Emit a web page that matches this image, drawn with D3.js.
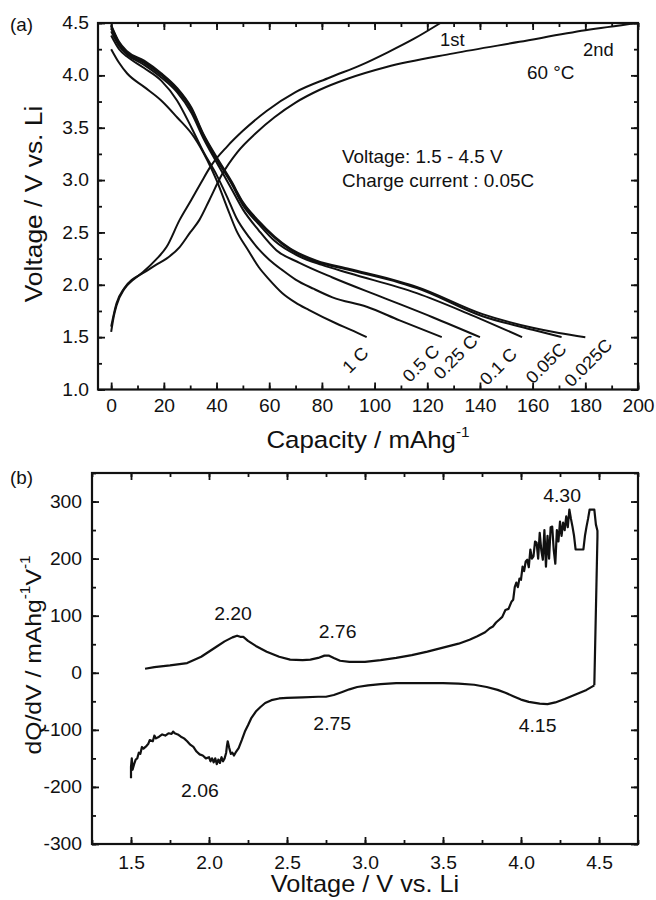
<!DOCTYPE html>
<html><head><meta charset="utf-8">
<script src="https://cdn.jsdelivr.net/npm/d3@7"></script>
<style>body{margin:0;background:#fff}svg{display:block}text{font-family:"Liberation Sans",Arial,sans-serif;fill:#111}</style>
</head><body>
<svg id="c" width="656" height="900"></svg>
<script>
// ---------- Panel (a) data: [capacity, voltage] ----------
const capMajorTicks = [0,20,40,60,80,100,120,140,160,180,200];
const voltMajorTicks = [1.0,1.5,2.0,2.5,3.0,3.5,4.0,4.5];
const rateLabels = ["1 C","0.5 C","0.25 C","0.1 C","0.05C","0.025C"];
const dis1C = [[0,4.25],[3,4.12],[6,4.02],[12.5,3.89],[19,3.76],[25,3.60],[31.5,3.41],[36.5,3.19],[40,3.0],[44,2.74],[47.5,2.52],[52,2.33],[56,2.17],[60,2.05],[65,1.92],[70,1.83],[75,1.76],[85.5,1.63],[91,1.57],[97,1.50]];
const dis05C = [[0,4.38],[3,4.25],[6,4.18],[12.5,4.07],[19,3.95],[25,3.76],[30.5,3.50],[35,3.27],[40,3.05],[44,2.84],[47.5,2.64],[52.5,2.45],[56,2.34],[60,2.24],[65,2.14],[70,2.05],[77,1.96],[84,1.88],[97,1.79],[109.5,1.66],[125.5,1.50]];
const dis025C = [[0,4.42],[3,4.28],[6,4.20],[12.5,4.10],[19,3.98],[25,3.84],[30.5,3.64],[35,3.40],[40,3.17],[45.6,2.92],[50,2.72],[56,2.52],[62.7,2.33],[71.5,2.21],[84,2.07],[103,1.88],[122,1.69],[140,1.50]];
const dis01C = [[0,4.45],[3,4.30],[6,4.21],[12.5,4.12],[19,4.00],[25,3.86],[30.5,3.67],[35,3.42],[40,3.20],[45.6,2.97],[50,2.76],[56,2.58],[62,2.42],[71.5,2.27],[80,2.19],[90.5,2.11],[116,1.92],[135,1.73],[156,1.50]];
const dis005C = [[0,4.47],[3,4.31],[6,4.22],[12.5,4.13],[19,4.01],[25,3.87],[30.5,3.68],[35,3.43],[40,3.21],[45.6,2.98],[50,2.78],[56,2.60],[67.7,2.34],[78,2.22],[90.5,2.14],[109.5,2.02],[116,1.97],[141,1.70],[160,1.57],[171,1.50]];
const dis0025C = [[0,4.48],[3,4.32],[6,4.23],[12.5,4.14],[19,4.02],[25,3.88],[30.5,3.69],[35,3.44],[40,3.22],[45.6,2.99],[50,2.79],[56,2.61],[67.7,2.35],[78,2.23],[90.5,2.15],[109.5,2.03],[116,1.98],[141,1.72],[160,1.59],[170,1.54],[180,1.50]];
const charge1st = [[0,1.55],[1,1.70],[2,1.80],[5,1.96],[8,2.04],[12,2.12],[17,2.24],[21,2.36],[26,2.62],[30.4,2.81],[34,2.97],[38,3.14],[44,3.32],[50,3.47],[59,3.66],[70,3.84],[83,3.98],[95,4.10],[105,4.22],[115,4.35],[125,4.50]];
const charge2nd = [[0,1.60],[1,1.72],[2,1.82],[5,1.97],[8,2.05],[12,2.11],[17,2.19],[21,2.25],[26,2.36],[30,2.50],[33.5,2.62],[37.3,2.81],[42,3.05],[48,3.27],[55,3.45],[62,3.60],[70,3.74],[79,3.86],[90,3.97],[104.5,4.08],[130,4.21],[155,4.32],[180,4.43],[200,4.50]];

// ---------- Panel (b) data: [voltage, dQ/dV] ----------
const dvMajorTicks = [1.5,2.0,2.5,3.0,3.5,4.0,4.5];
const dqMajorTicks = [-300,-200,-100,0,100,200,300];
const dqCharge = [[1.59,7],[1.65,10],[1.75,13],[1.86,17],[1.95,28],[2.05,46],[2.10,55],[2.15,62],[2.18,65],[2.20,63],[2.22,63],[2.25,56],[2.30,47],[2.37,37],[2.45,28],[2.52,23],[2.60,22],[2.65,23],[2.70,26],[2.74,30],[2.77,30],[2.80,26],[2.84,21],[2.90,19],[3.0,19],[3.1,22],[3.2,26],[3.3,31],[3.4,37],[3.5,44],[3.6,51],[3.67,58],[3.72,64],[3.77,71],[3.80,78],[3.82,81],[3.84,88],[3.86,93],[3.88,98],[3.90,110],[3.92,112],[3.94,125],[3.95,128],[3.96,150],[3.97,158],[3.98,150],[3.99,165],[4.00,163],[4.01,186],[4.02,178],[4.03,195],[4.04,198],[4.05,185],[4.06,216],[4.07,200],[4.08,204],[4.09,230],[4.10,228],[4.11,200],[4.12,245],[4.13,215],[4.14,198],[4.15,250],[4.16,186],[4.17,240],[4.18,200],[4.19,255],[4.20,256],[4.21,215],[4.22,191],[4.23,250],[4.24,230],[4.25,265],[4.26,240],[4.27,263],[4.28,250],[4.29,274],[4.30,255],[4.31,286],[4.32,270],[4.33,256],[4.34,240],[4.35,216],[4.37,216],[4.40,216],[4.41,240],[4.42,256],[4.43,270],[4.44,286],[4.47,286],[4.48,260],[4.49,249],[4.49,238],[4.47,-22]];
const dqDischarge = [[4.47,-22],[4.42,-30],[4.35,-38],[4.28,-46],[4.22,-52],[4.17,-55],[4.12,-54],[4.05,-51],[4.00,-47],[3.95,-41],[3.90,-35],[3.85,-30],[3.78,-25],[3.70,-21],[3.60,-19],[3.50,-18],[3.40,-18],[3.30,-18],[3.20,-18],[3.10,-20],[3.02,-22],[2.95,-25],[2.90,-29],[2.85,-34],[2.80,-39],[2.75,-42],[2.70,-42],[2.60,-43],[2.50,-44],[2.45,-45],[2.40,-48],[2.36,-53],[2.33,-60],[2.30,-68],[2.27,-80],[2.25,-92],[2.23,-103],[2.21,-118],[2.19,-132],[2.17,-140],[2.16,-145],[2.15,-140],[2.14,-142],[2.13,-132],[2.12,-120],[2.115,-128],[2.11,-140],[2.10,-150],[2.09,-155],[2.08,-148],[2.07,-158],[2.06,-152],[2.05,-160],[2.04,-150],[2.03,-157],[2.02,-150],[2.01,-155],[2.00,-148],[1.98,-150],[1.96,-145],[1.94,-143],[1.92,-138],[1.90,-130],[1.88,-126],[1.86,-120],[1.84,-115],[1.82,-112],[1.80,-108],[1.78,-106],[1.77,-103],[1.76,-107],[1.74,-106],[1.72,-110],[1.70,-108],[1.68,-112],[1.66,-115],[1.65,-110],[1.64,-120],[1.62,-118],[1.61,-125],[1.60,-128],[1.58,-133],[1.57,-130],[1.56,-142],[1.55,-140],[1.54,-150],[1.53,-152],[1.52,-160],[1.51,-170],[1.505,-150],[1.50,-165],[1.50,-185]];
const peakLabels = ["2.20","2.76","4.30","2.75","4.15","2.06"];
const peakPos = [[2.154,92],[2.824,61],[4.263,299],[2.79,-100],[4.106,-104],[1.942,-218]];

// ---------- drawing ----------
const svg = d3.select("#c");
const SX = 1.1;
function txt(g, x, y, s, size, anchor, rot, sx){
  const t = g.append("text").attr("transform",`translate(${x},${y}) rotate(${rot||0}) scale(${sx||1},1)`)
    .attr("font-size",size).attr("text-anchor",anchor||"start");
  if (typeof s === "string") t.text(s); else s(t);
  return t;
}
function frame(g, x, y, xMaj, xMin, yMaj, yMin, xFmt, yFmt, xPad, yPad){
  const [x0,x1]=x.range(), [y0,y1]=y.range();
  const mk=(ax,vals,size,labels,pad)=>ax.tickValues(vals).tickSizeInner(-size).tickSizeOuter(0).tickPadding(pad||0).tickFormat(labels||"");
  const styleAx = sel=>{sel.select(".domain").remove(); sel.selectAll("line").attr("stroke","#111").attr("stroke-width",1.8); sel.selectAll("text").attr("font-size",17.5).attr("fill","#111").attr("font-family","Liberation Sans, Arial, sans-serif");};
  g.append("g").attr("transform",`translate(0,${y0})`).call(mk(d3.axisBottom(x),xMin,4)).call(styleAx);
  g.append("g").attr("transform",`translate(0,${y0})`).call(mk(d3.axisBottom(x),xMaj,7,xFmt,xPad)).call(styleAx)
    .selectAll("text").attr("transform",`scale(${SX},1)`);
  g.append("g").attr("transform",`translate(0,${y1})`).call(mk(d3.axisTop(x),xMin,4)).call(styleAx);
  g.append("g").attr("transform",`translate(0,${y1})`).call(mk(d3.axisTop(x),xMaj,7)).call(styleAx);
  g.append("g").attr("transform",`translate(${x0},0)`).call(mk(d3.axisLeft(y),yMin,4)).call(styleAx);
  g.append("g").attr("transform",`translate(${x0},0)`).call(mk(d3.axisLeft(y),yMaj,7,yFmt,yPad)).call(styleAx)
    .selectAll("text").attr("transform",`scale(${SX},1)`).attr("x",-yPad/SX);
  g.append("g").attr("transform",`translate(${x1},0)`).call(mk(d3.axisRight(y),yMin,4)).call(styleAx);
  g.append("g").attr("transform",`translate(${x1},0)`).call(mk(d3.axisRight(y),yMaj,7)).call(styleAx);
  g.append("rect").attr("x",x0).attr("y",y1).attr("width",x1-x0).attr("height",y0-y1)
    .attr("fill","none").attr("stroke","#111").attr("stroke-width",2.2);
}

// Panel (a)
const xa = d3.scaleLinear().domain([-5,200]).range([98,638]);
const ya = d3.scaleLinear().domain([1.0,4.5]).range([389.5,23]);
const ga = svg.append("g");
const lineA = d3.line().x(d=>xa(d[0])).y(d=>ya(d[1])).curve(d3.curveMonotoneX);
[dis1C,dis05C,dis025C,dis01C,dis005C,dis0025C,charge1st,charge2nd].forEach(s=>{
  ga.append("path").attr("d",lineA(s)).attr("fill","none").attr("stroke","#111").attr("stroke-width",2);
});
frame(ga, xa, ya, capMajorTicks, d3.range(-0,201,10), voltMajorTicks, d3.range(1.0,4.51,0.25),
  d3.format("d"), d3.format(".1f"), 10, 9);
const ends = [dis1C,dis05C,dis025C,dis01C,dis005C,dis0025C].map(s=>s[s.length-1]);
const rateOff = [[3,17],[-1,15],[-1,5],[-4,18],[6,13],[28,9]];
rateLabels.forEach((l,i)=>{
  txt(ga, xa(ends[i][0])+rateOff[i][0], ya(ends[i][1])+rateOff[i][1], l, 17.5, "end", -45, 1.05);
});
txt(ga, 440, 46, "1st", 17.5, "start", 0, 1.05);
txt(ga, 583, 56, "2nd", 17.5, "start", 0, 1.05);
txt(ga, 527, 79, "60 \u00B0C", 18, "start", 0, 1.05);
txt(ga, 342, 163, "Voltage: 1.5 - 4.5 V", 17.5, "start", 0, 1.08);
txt(ga, 342, 187, "Charge current : 0.05C", 17.5, "start", 0, 1.08);
txt(ga, 10, 31, "(a)", 18, "start", 0, 1.05);
txt(ga, 42, 204, "Voltage / V vs. Li", 24, "middle", -90, 1.1);
txt(ga, 368, 448, t=>{t.append("tspan").text("Capacity / mAhg");
  t.append("tspan").attr("font-size",14).attr("dy",-11).text("-1");}, 23.5, "middle", 0, 1.1);

// Panel (b)
const xb = d3.scaleLinear().domain([1.25,4.75]).range([92,638]);
const yb = d3.scaleLinear().domain([-300,350]).range([844,473]);
const gb = svg.append("g");
const lineB = d3.line().x(d=>xb(d[0])).y(d=>yb(d[1]));
[dqCharge,dqDischarge].forEach(s=>{
  gb.append("path").attr("d",lineB(s)).attr("fill","none").attr("stroke","#111").attr("stroke-width",2.2).attr("stroke-linejoin","round");
});
frame(gb, xb, yb, dvMajorTicks, d3.range(1.25,4.751,0.25), dqMajorTicks, d3.range(-300,351,50),
  d3.format(".1f"), d=>String(d), 13, 10);
peakLabels.forEach((l,i)=>txt(gb, xb(peakPos[i][0]), yb(peakPos[i][1]), l, 18.5, "middle", 0, 1.05));
txt(gb, 10, 484, "(b)", 18, "start", 0, 1.05);
txt(gb, 41, 655, t=>{t.append("tspan").text("dQ/dV / mAhg");
  t.append("tspan").attr("font-size",14).attr("dy",-11).text("-1");
  t.append("tspan").attr("dy",11).text("V");
  t.append("tspan").attr("font-size",14).attr("dy",-11).text("-1");}, 22.5, "middle", -90, 1.1);
txt(gb, 365, 892, "Voltage / V vs. Li", 23, "middle", 0, 1.1);
</script>
</body></html>
